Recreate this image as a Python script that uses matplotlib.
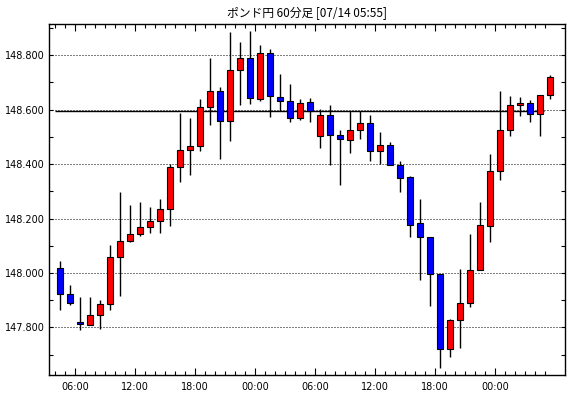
import numpy as np
import pandas as pd
import matplotlib
matplotlib.use('Agg')
import matplotlib.pyplot as plt
from matplotlib.ticker import FixedLocator, MultipleLocator, FuncFormatter

plt.rcParams['font.family'] = ['Noto Sans CJK JP', 'DejaVu Sans']

# ====================================================================
# data (GBP/JPY hourly candles)
# ====================================================================
title = 'ポンド円 60分足 [07/14 05:55]'
times = pd.date_range('2025-07-12 04:00', periods=50, freq='h')

opens = [148.017, 147.922, 147.819, 147.807, 147.845, 147.885, 148.058, 148.116, 148.142, 148.168,
         148.190, 148.234, 148.388, 148.451, 148.466, 148.609, 148.668, 148.557, 148.745, 148.789,
         148.638, 148.807, 148.646, 148.631, 148.568, 148.627, 148.502, 148.580, 148.506, 148.490,
         148.524, 148.550, 148.450, 148.469, 148.396, 148.352, 148.183, 148.131, 147.995, 147.720,
         147.826, 147.889, 148.010, 148.172, 148.374, 148.524, 148.616, 148.624, 148.583, 148.653]
highs = [148.044, 147.956, 147.911, 147.911, 147.901, 148.103, 148.297, 148.250, 148.260, 148.243,
         148.272, 148.401, 148.588, 148.570, 148.640, 148.790, 148.684, 148.886, 148.849, 148.891,
         148.838, 148.823, 148.731, 148.695, 148.640, 148.643, 148.602, 148.617, 148.526, 148.594,
         148.594, 148.581, 148.518, 148.480, 148.412, 148.355, 148.272, 148.131, 147.995, 147.831,
         148.015, 148.143, 148.261, 148.437, 148.669, 148.651, 148.647, 148.636, 148.653, 148.728]
lows = [147.865, 147.884, 147.789, 147.807, 147.793, 147.865, 147.917, 148.114, 148.137, 148.148,
        148.148, 148.174, 148.336, 148.361, 148.450, 148.542, 148.420, 148.486, 148.616, 148.622,
        148.633, 148.575, 148.594, 148.556, 148.561, 148.556, 148.461, 148.395, 148.325, 148.442,
        148.494, 148.413, 148.401, 148.395, 148.299, 148.134, 147.974, 147.880, 147.649, 147.690,
        147.723, 147.876, 148.010, 148.112, 148.343, 148.505, 148.578, 148.553, 148.505, 148.641]
closes = [147.922, 147.889, 147.811, 147.845, 147.885, 148.058, 148.116, 148.142, 148.169, 148.190,
          148.234, 148.388, 148.451, 148.466, 148.609, 148.668, 148.557, 148.745, 148.789, 148.642,
          148.807, 148.649, 148.631, 148.568, 148.626, 148.594, 148.580, 148.506, 148.491, 148.524,
          148.550, 148.450, 148.469, 148.395, 148.350, 148.178, 148.131, 147.995, 147.720, 147.826,
          147.889, 148.010, 148.175, 148.374, 148.524, 148.616, 148.624, 148.583, 148.653, 148.719]

ref_level = 148.594

# ====================================================================
# plot
# ====================================================================
o = np.array(opens)
c = np.array(closes)
x = np.arange(len(o))

fig = plt.figure(figsize=(5.7, 3.98), dpi=100)
ax = fig.add_axes([49 / 570, 1 - 375 / 398, 516 / 570, 351 / 398])

# grid
for lv in np.arange(147.8, 148.81, 0.2):
    ax.axhline(lv, color='black', lw=0.72, ls=(0, (1, 2)), zorder=1)
ax.hlines(ref_level, -0.5, 48.4, color='black', lw=1.0, zorder=1.5)

# wicks + bodies
ax.vlines(x, lows, highs, color='black', lw=1.0, zorder=2)
colors = np.where(c >= o, '#ff0000', '#0000ff')
ax.bar(x, np.abs(c - o), bottom=np.minimum(o, c), width=0.62, color=colors,
       edgecolor='black', linewidth=0.8, zorder=3)

ax.set_xlim(-1.13, 50.47)
ax.set_ylim(147.625, 148.915)

# x ticks on hour boundaries, labels every 6 hours
hour_pos = x - 0.5
major = [p for p, t in zip(hour_pos, times) if t.hour % 6 == 0]
major_lab = [t.strftime('%H:%M') for t in times if t.hour % 6 == 0]
ax.xaxis.set_major_locator(FixedLocator(major))
ax.set_xticklabels(major_lab)
ax.xaxis.set_minor_locator(FixedLocator(list(hour_pos) + [50.5]))

ax.yaxis.set_major_locator(MultipleLocator(0.2))
ax.yaxis.set_minor_locator(MultipleLocator(0.1))
ax.yaxis.set_major_formatter(FuncFormatter(lambda v, p: f'{v:.3f}'))

ax.tick_params(which='both', direction='in', top=True, right=True, width=0.8,
               labelsize=7, colors='black')
ax.tick_params(axis='x', which='major', length=5, pad=5)
ax.tick_params(axis='x', which='minor', length=3)
ax.tick_params(axis='y', which='both', length=3, pad=3)
for lab in ax.get_xticklabels() + ax.get_yticklabels():
    lab.set_family('DejaVu Sans')
for s in ax.spines.values():
    s.set_linewidth(1.0)

ax.set_title(title, fontsize=8.5, pad=5)

fig.savefig('out.png', dpi=100)
